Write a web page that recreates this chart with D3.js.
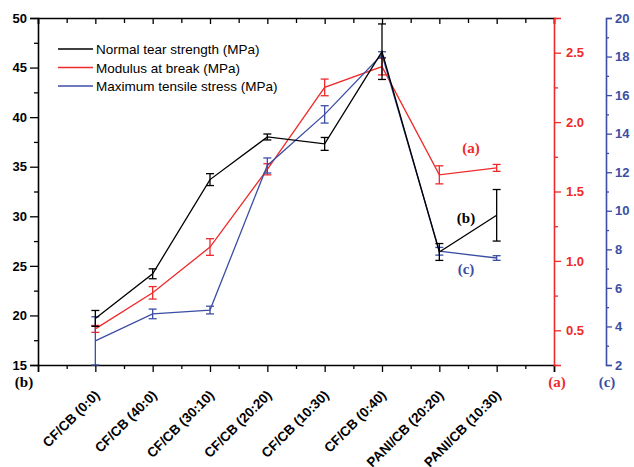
<!DOCTYPE html>
<html>
<head>
<meta charset="utf-8">
<script src="https://cdn.jsdelivr.net/npm/d3@7"></script>
<style>
  body { margin: 0; background: #fff; }
  svg { display: block; }
  .tick text { font-family: "Liberation Sans", Arial, sans-serif; font-weight: bold; font-size: 13px; }
</style>
</head>
<body>
<div id="chart"></div>
<script>
var categories = ["CF/CB (0:0)", "CF/CB (40:0)", "CF/CB (30:10)", "CF/CB (20:20)", "CF/CB (10:30)", "CF/CB (0:40)", "PANI/CB (20:20)", "PANI/CB (10:30)"];
var tear = [19.7, 24.2, 33.7, 38.0, 37.3, 46.6, 26.4, 30.1];
var tearErr = [0.8, 0.5, 0.6, 0.3, 0.65, 2.8, 0.85, 2.6];
var modulus = [0.51, 0.77, 1.10, 1.66, 2.25, 2.40, 1.62, 1.67];
var modulusErr = [0.025, 0.045, 0.06, 0.04, 0.06, 0.06, 0.065, 0.025];
var stress = [3.25, 4.65, 4.85, 12.35, 15.0, 18.1, 7.9, 7.55];
var stressErr = [1.25, 0.25, 0.2, 0.39, 0.45, 0.15, 0.2, 0.12];
var leftTicks = [15, 20, 25, 30, 35, 40, 45, 50];
var redTicks = [0.5, 1.0, 1.5, 2.0, 2.5];
var blueTicks = [2, 4, 6, 8, 10, 12, 14, 16, 18, 20];

var width = 634, height = 467;
var mLeft = 38, mRight = 554, mTop = 18, mBottom = 365;
var blueX = 606;
var RED = "#ee2a2a", BLUE = "#3c4ea4";

var svg = d3.select("#chart").append("svg")
  .attr("width", width)
  .attr("height", height);

var x = d3.scaleLinear().domain([0, 9]).range([mLeft, mRight]);
var yL = d3.scaleLinear().domain([15, 50]).range([mBottom, mTop]);
var yR = d3.scaleLinear().domain([0.25, 2.75]).range([mBottom, mTop]);
var yB = d3.scaleLinear().domain([2, 20]).range([mBottom, mTop]);

var xMajor = d3.range(0, 10);
var xMinor = d3.range(0.5, 9, 1);

// bottom axis
var gb = svg.append("g").attr("transform", "translate(0," + mBottom + ")");
gb.call(d3.axisBottom(x).tickValues(xMajor).tickSize(7).tickFormat(""));
gb.append("g").call(d3.axisBottom(x).tickValues(xMinor).tickSize(4).tickFormat(""));
gb.selectAll("g g .domain").remove();

// top axis (ticks inward)
var gt = svg.append("g").attr("transform", "translate(0," + mTop + ")");
gt.call(d3.axisBottom(x).tickValues(xMajor).tickSize(6).tickFormat(""));
gt.append("g").call(d3.axisBottom(x).tickValues(xMinor).tickSize(5).tickFormat(""));
gt.selectAll("g g .domain").remove();

// left axis
var gl = svg.append("g").attr("transform", "translate(" + mLeft + ",0)");
gl.call(d3.axisLeft(yL).tickValues(leftTicks).tickSize(8).tickPadding(3));
gl.append("g").call(d3.axisLeft(yL).tickValues(d3.range(17.5, 50, 5)).tickSize(4).tickFormat(""));
gl.selectAll("g g .domain").remove();

// red axis
var gr = svg.append("g").attr("transform", "translate(" + mRight + ",0)");
gr.call(d3.axisRight(yR).tickValues(redTicks).tickSize(7).tickPadding(5).tickFormat(d3.format(".1f")));
gr.append("g").call(d3.axisRight(yR).tickValues(d3.range(0.25, 2.8, 0.5)).tickSize(4).tickFormat(""));
gr.selectAll("g g .domain").remove();
gr.selectAll("path, line").attr("stroke", RED);
gr.selectAll("text").attr("fill", RED);

// blue axis
var gB = svg.append("g").attr("transform", "translate(" + blueX + ",0)");
gB.call(d3.axisRight(yB).tickValues(blueTicks).tickSize(6).tickPadding(3));
gB.append("g").call(d3.axisRight(yB).tickValues(d3.range(3, 20, 2)).tickSize(3).tickFormat(""));
gB.selectAll("g g .domain").remove();
gB.selectAll("path, line").attr("stroke", BLUE);
gB.selectAll("text").attr("fill", BLUE);

svg.selectAll(".domain").attr("stroke-width", 1.6);
svg.selectAll(".tick line").attr("stroke-width", 1.3);

// x labels
svg.append("g").selectAll("text")
  .data(categories)
  .enter()
  .append("text")
  .attr("transform", function(d, i) { return "translate(" + (x(i + 1) + 5) + "," + (mBottom + 31) + ") rotate(-45)"; })
  .attr("text-anchor", "end")
  .style("font-family", "'Liberation Sans', Arial, sans-serif")
  .style("font-weight", "bold")
  .style("font-size", "13.5px")
  .text(function(d) { return d; });

// series
function drawSeries(vals, errs, y, color) {
  var g = svg.append("g");
  var line = d3.line()
    .x(function(d, i) { return x(i + 1); })
    .y(function(d) { return y(d); });
  g.append("path")
    .datum(vals)
    .attr("d", line)
    .attr("fill", "none")
    .attr("stroke", color)
    .attr("stroke-width", 1.3);
  var eb = g.selectAll(".eb").data(vals).enter().append("g");
  eb.append("line")
    .attr("x1", function(d, i) { return x(i + 1); })
    .attr("x2", function(d, i) { return x(i + 1); })
    .attr("y1", function(d, i) { return y(d - errs[i]); })
    .attr("y2", function(d, i) { return y(d + errs[i]); });
  eb.append("line")
    .attr("x1", function(d, i) { return x(i + 1) - 4; })
    .attr("x2", function(d, i) { return x(i + 1) + 4; })
    .attr("y1", function(d, i) { return y(d - errs[i]); })
    .attr("y2", function(d, i) { return y(d - errs[i]); });
  eb.append("line")
    .attr("x1", function(d, i) { return x(i + 1) - 4; })
    .attr("x2", function(d, i) { return x(i + 1) + 4; })
    .attr("y1", function(d, i) { return y(d + errs[i]); })
    .attr("y2", function(d, i) { return y(d + errs[i]); });
  eb.selectAll("line").attr("stroke", color).attr("stroke-width", 1.3);
}
drawSeries(modulus, modulusErr, yR, RED);
drawSeries(stress, stressErr, yB, BLUE);
drawSeries(tear, tearErr, yL, "#000");

// legend
var legend = [["Normal tear strength (MPa)", "#000"], ["Modulus at break (MPa)", RED], ["Maximum tensile stress (MPa)", BLUE]];
var lg = svg.append("g");
legend.forEach(function(d, i) {
  var ly = 49 + i * 18.5;
  lg.append("line").attr("x1", 58).attr("x2", 93).attr("y1", ly).attr("y2", ly)
    .attr("stroke", d[1]).attr("stroke-width", 1.3);
  lg.append("text").attr("x", 96).attr("y", ly + 5)
    .style("font-family", "'Liberation Sans', Arial, sans-serif")
    .style("font-size", "13.5px")
    .text(d[0]);
});

// series tags
function tag(t, px, py, color) {
  svg.append("text").attr("x", px).attr("y", py)
    .attr("text-anchor", "middle")
    .attr("fill", color)
    .style("font-family", "'Liberation Serif', 'Times New Roman', serif")
    .style("font-weight", "bold")
    .style("font-size", "15px")
    .text(t);
}
tag("(a)", 471, 153, RED);
tag("(b)", 466, 223, "#000");
tag("(c)", 466, 274, BLUE);
tag("(b)", 24, 387, "#000");
tag("(a)", 557, 387, RED);
tag("(c)", 607, 387, BLUE);
</script>
</body>
</html>
